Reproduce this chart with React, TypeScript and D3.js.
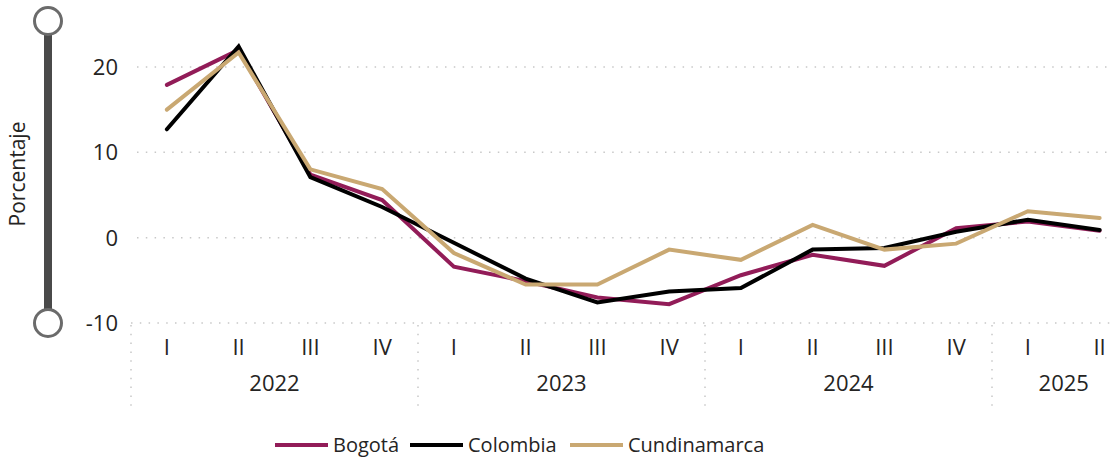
import React, { useEffect, useRef } from 'react'
import * as d3 from 'd3'

// quarters and years shown on the hierarchical x axis
const years = ['2022', '2023', '2024', '2025']
const quarters = [
  { year: '2022', q: 'I' }, { year: '2022', q: 'II' }, { year: '2022', q: 'III' }, { year: '2022', q: 'IV' },
  { year: '2023', q: 'I' }, { year: '2023', q: 'II' }, { year: '2023', q: 'III' }, { year: '2023', q: 'IV' },
  { year: '2024', q: 'I' }, { year: '2024', q: 'II' }, { year: '2024', q: 'III' }, { year: '2024', q: 'IV' },
  { year: '2025', q: 'I' }, { year: '2025', q: 'II' },
]

// variation in percent
const bogota = [17.9, 22.0, 7.4, 4.4, -3.4, -5.1, -7.0, -7.8, -4.4, -2.0, -3.3, 1.1, 1.9, 0.8]
const colombia = [12.7, 22.4, 7.1, 3.6, -0.6, -4.8, -7.6, -6.3, -5.9, -1.4, -1.2, 0.7, 2.1, 0.9]
const cundinamarca = [15.0, 21.7, 8.0, 5.7, -1.8, -5.5, -5.5, -1.4, -2.6, 1.5, -1.4, -0.7, 3.1, 2.3]

const yTicks = [20, 10, 0, -10]

const seriesList = [
  { name: 'Bogotá', values: bogota, color: '#921c58' },
  { name: 'Colombia', values: colombia, color: '#000000' },
  { name: 'Cundinamarca', values: cundinamarca, color: '#c9a872' },
]

const FONT = '"Open Sans", "Noto Sans", sans-serif'

export default function App() {
  const ref = useRef<SVGSVGElement>(null)

  useEffect(() => {
    const svg = d3.select(ref.current)
    svg.selectAll('*').remove()

    const keys = quarters.map(d => d.year + '-' + d.q)
    // plot runs past the right edge of the picture, like the original
    const x = d3.scaleBand().domain(keys).range([131, 131 + 14 * 71.75])
    const y = d3.scaleLinear().domain([-10, 20]).range([323, 67])

    // slider on the left
    const slider = svg.append('g')
    slider.append('line')
      .attr('x1', 48).attr('x2', 48).attr('y1', 21).attr('y2', 323)
      .style('stroke', '#4a4a4a').style('stroke-width', 8)
    ;[21, 323].forEach(cy => {
      slider.append('circle')
        .attr('cx', 48).attr('cy', cy).attr('r', 13.5)
        .style('fill', '#fff').style('stroke', '#6b6b6b').style('stroke-width', 3)
    })

    // axis title
    svg.append('text')
      .attr('transform', 'translate(25,174) rotate(-90)')
      .style('text-anchor', 'middle')
      .style('font-family', FONT).style('font-size', '21px').style('fill', '#252423')
      .text('Porcentaje')

    // gridlines + y tick labels
    const grid = svg.append('g')
    yTicks.forEach(t => {
      grid.append('line')
        .attr('x1', t === -10 ? 131 : 137).attr('x2', 1112)
        .attr('y1', y(t)).attr('y2', y(t))
        .style('stroke', '#c8c8c8').style('stroke-width', 1.5)
        .style('stroke-dasharray', '1.5 7.3')
      grid.append('text')
        .attr('x', 118).attr('y', y(t) + 8)
        .style('text-anchor', 'end')
        .style('font-family', FONT).style('font-size', '22px').style('fill', '#252423')
        .text(t)
    })

    // hierarchical x axis
    const xAxis = svg.append('g')
    quarters.forEach((d, i) => {
      xAxis.append('text')
        .attr('x', x(keys[i])! + x.bandwidth() / 2).attr('y', 355)
        .style('text-anchor', 'middle')
        .style('font-family', FONT).style('font-size', '22px').style('fill', '#252423')
        .text(d.q)
    })
    years.forEach(yr => {
      const ks = keys.filter(k => k.startsWith(yr))
      const x0 = x(ks[0])!
      const x1 = x(ks[ks.length - 1])! + x.bandwidth()
      xAxis.append('text')
        .attr('x', (x0 + x1) / 2).attr('y', 391)
        .style('text-anchor', 'middle')
        .style('font-family', FONT).style('font-size', '22px').style('fill', '#252423')
        .text(yr)
      xAxis.append('line')
        .attr('x1', x0).attr('x2', x0).attr('y1', 325).attr('y2', 406)
        .style('stroke', '#c8c8c8').style('stroke-width', 1.5)
        .style('stroke-dasharray', '1.5 7.3')
    })

    // the lines
    const line = d3.line<number>()
      .x((_, i) => x(keys[i])! + x.bandwidth() / 2)
      .y(v => y(v))
    svg.append('g').selectAll('path')
      .data(seriesList)
      .enter().append('path')
      .attr('d', d => line(d.values))
      .style('fill', 'none')
      .style('stroke', d => d.color)
      .style('stroke-width', 4)
      .style('stroke-linejoin', 'miter')
      .style('stroke-linecap', 'round')

    // legend
    const legendX = [275, 410, 570]
    const legend = svg.append('g')
    seriesList.forEach((s, i) => {
      legend.append('line')
        .attr('x1', legendX[i]).attr('x2', legendX[i] + 53)
        .attr('y1', 445).attr('y2', 445)
        .style('stroke', s.color).style('stroke-width', 4)
      legend.append('text')
        .attr('x', legendX[i] + 58).attr('y', 452)
        .style('font-family', FONT).style('font-size', '20px').style('fill', '#252423')
        .text(s.name)
    })
  }, [])

  return (
    <div style={{ position: 'absolute', left: 0, top: 0, width: 1112, height: 461, overflow: 'hidden', background: '#fff' }}>
      <svg ref={ref} width={1112} height={461} />
    </div>
  )
}
